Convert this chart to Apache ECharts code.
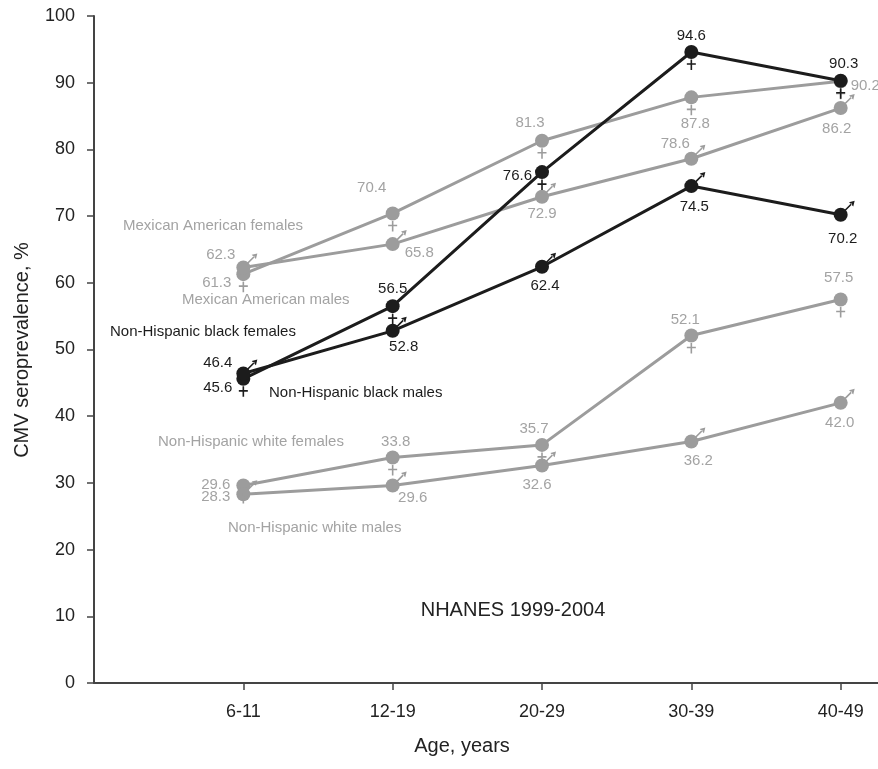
<!DOCTYPE html>
<html>
<head>
<meta charset="utf-8">
<script src="https://cdn.jsdelivr.net/npm/echarts@6/dist/echarts.min.js"></script>
<style>
html,body{margin:0;padding:0;background:#fff;}
#chart{width:878px;height:769px;}
</style>
</head>
<body>
<div id="chart"></div>
<script>
// ---- data ----
const categories = ['6-11', '12-19', '20-29', '30-39', '40-49'];
const yTicks = [0, 10, 20, 30, 40, 50, 60, 70, 80, 90, 100];
const mexAmFemales = [61.3, 70.4, 81.3, 87.8, 90.2];
const mexAmMales = [62.3, 65.8, 72.9, 78.6, 86.2];
const blackFemales = [45.6, 56.5, 76.6, 94.6, 90.3];
const blackMales = [46.4, 52.8, 62.4, 74.5, 70.2];
const whiteFemales = [29.6, 33.8, 35.7, 52.1, 57.5];
const whiteMales = [28.3, 29.6, 32.6, 36.2, 42.0];
const seriesNames = ['Mexican American females', 'Mexican American males',
  'Non-Hispanic black females', 'Non-Hispanic black males',
  'Non-Hispanic white females', 'Non-Hispanic white males'];
const noteText = 'NHANES 1999-2004';
const xTitle = 'Age, years';
const yTitle = 'CMV seroprevalence, %';

// ---- styles / label placement (not data) ----
const GRAY = '#9c9c9c';
const GRAY_TXT = '#a3a3a3';
const BLACK = '#1c1c1c';
const FONT = 'Liberation Sans, Arial, sans-serif';

const labelPlace = {
  mexAmFemales: [['left', [0, 9]], ['top', [-21, -6]], ['top', [-12, 2]], ['bottom', [4, 7]], ['right', [-2, 4]]],
  mexAmMales: [['left', [4, -13]], ['right', [0, 9]], ['bottom', [0, -2]], ['top', [-16, 5]], ['bottom', [-4, 1]]],
  blackFemales: [['left', [1, 9]], ['top', [0, 2]], ['left', [2, 4]], ['top', [0, 3]], ['top', [3, 3]]],
  blackMales: [['left', [1, -11]], ['bottom', [11, -3]], ['bottom', [3, 0]], ['bottom', [3, 1]], ['bottom', [2, 5]]],
  whiteFemales: [['left', [-1, -1]], ['top', [3, 4]], ['top', [-8, 3]], ['top', [-6, 4]], ['top', [-2, -2]]],
  whiteMales: [['left', [-1, 3]], ['bottom', [20, -7]], ['bottom', [-5, 0]], ['bottom', [7, 0]], ['bottom', [-1, 0]]]
};

// gender glyphs (drawn as symbols over the markers)
const VENUS = 'path://M-0.8 7.5 L0.8 7.5 L0.8 11.2 L4.5 11.2 L4.5 12.8 L0.8 12.8 L0.8 18 L-0.8 18 L-0.8 12.8 L-4.5 12.8 L-4.5 11.2 L-0.8 11.2 Z';
const VENUS_SIZE = [9, 10.5], VENUS_OFF = [0, 12.75];
const MARS = 'path://M5.07 -3.93 L11.57 -10.43 L10.43 -11.57 L3.93 -5.07 Z M14 -14 L12.62 -8.38 L8.38 -12.62 Z';
const MARS_SIZE = [10.07, 10.07], MARS_OFF = [8.97, -8.97];

function lineSeries(name, values, color, txtColor, places) {
  return {
    name: name, type: 'line', z: 3,
    data: values.map((v, i) => ({
      value: [i + 1, v],
      label: { position: places[i][0], offset: places[i][1] }
    })),
    symbol: 'circle', symbolSize: 14,
    lineStyle: { color: color, width: 3 },
    itemStyle: { color: color },
    label: {
      show: true, color: txtColor, fontSize: 15, fontFamily: FONT, distance: 5,
      formatter: p => p.value[1].toFixed(1)
    },
    emphasis: { disabled: true }, silent: true
  };
}
function glyphSeries(values, color, female) {
  return {
    type: 'scatter', z: 4,
    data: values.map((v, i) => [i + 1, v]),
    symbol: female ? VENUS : MARS,
    symbolSize: female ? VENUS_SIZE : MARS_SIZE,
    symbolOffset: female ? VENUS_OFF : MARS_OFF,
    itemStyle: { color: color, opacity: 1 },
    emphasis: { disabled: true }, silent: true
  };
}

const groups = [
  [seriesNames[0], mexAmFemales, GRAY, GRAY_TXT, labelPlace.mexAmFemales, true],
  [seriesNames[1], mexAmMales, GRAY, GRAY_TXT, labelPlace.mexAmMales, false],
  [seriesNames[4], whiteFemales, GRAY, GRAY_TXT, labelPlace.whiteFemales, true],
  [seriesNames[5], whiteMales, GRAY, GRAY_TXT, labelPlace.whiteMales, false],
  [seriesNames[2], blackFemales, BLACK, BLACK, labelPlace.blackFemales, true],
  [seriesNames[3], blackMales, BLACK, BLACK, labelPlace.blackMales, false]
];
const series = [];
groups.forEach(g => series.push(lineSeries(g[0], g[1], g[2], g[3], g[4])));
groups.forEach(g => series.push(glyphSeries(g[1], g[2], g[5])));

function txt(x, y, text, color, size, align) {
  return {
    type: 'text', x: x, y: y, silent: true,
    style: { text: text, fill: color, font: size + 'px ' + FONT, textVerticalAlign: 'middle', textAlign: align || 'left' }
  };
}

const chart = echarts.init(document.getElementById('chart'));
chart.setOption({
  animation: false,
  backgroundColor: '#fff',
  grid: { left: 94, right: 0, top: 16, bottom: 86 },
  xAxis: {
    type: 'value', min: 0, max: 5.25, interval: 1,
    splitLine: { show: false },
    axisLine: { show: true, lineStyle: { color: '#444', width: 2 } },
    axisTick: { show: true, customValues: categories.map((c, i) => i + 1), length: 7, lineStyle: { color: '#444', width: 1.5 } },
    axisLabel: {
      customValues: categories.map((c, i) => i + 1),
      formatter: v => categories[Math.round(v) - 1] || '',
      color: '#222', fontSize: 18, fontFamily: FONT, margin: 20
    }
  },
  yAxis: {
    type: 'value', min: yTicks[0], max: yTicks[yTicks.length - 1], interval: 10,
    splitLine: { show: false },
    axisLine: { show: true, lineStyle: { color: '#444', width: 2 } },
    axisTick: { show: true, length: 7, lineStyle: { color: '#444', width: 1.5 } },
    axisLabel: { color: '#222', fontSize: 18, fontFamily: FONT, margin: 19 }
  },
  graphic: [
    txt(123, 226, seriesNames[0], GRAY_TXT, 15),
    txt(182, 300, seriesNames[1], GRAY_TXT, 15),
    txt(110, 332, seriesNames[2], BLACK, 15),
    txt(269, 393, seriesNames[3], BLACK, 15),
    txt(158, 442, seriesNames[4], GRAY_TXT, 15),
    txt(228, 528, seriesNames[5], GRAY_TXT, 15),
    txt(513, 610, noteText, '#222', 20, 'center'),
    txt(462, 746, xTitle, '#222', 20, 'center'),
    { type: 'text', x: 22, y: 350, rotation: Math.PI / 2, silent: true,
      style: { text: yTitle, fill: '#222', font: '20px ' + FONT, textVerticalAlign: 'middle', textAlign: 'center' } }
  ],
  series: series
});
</script>
</body>
</html>
